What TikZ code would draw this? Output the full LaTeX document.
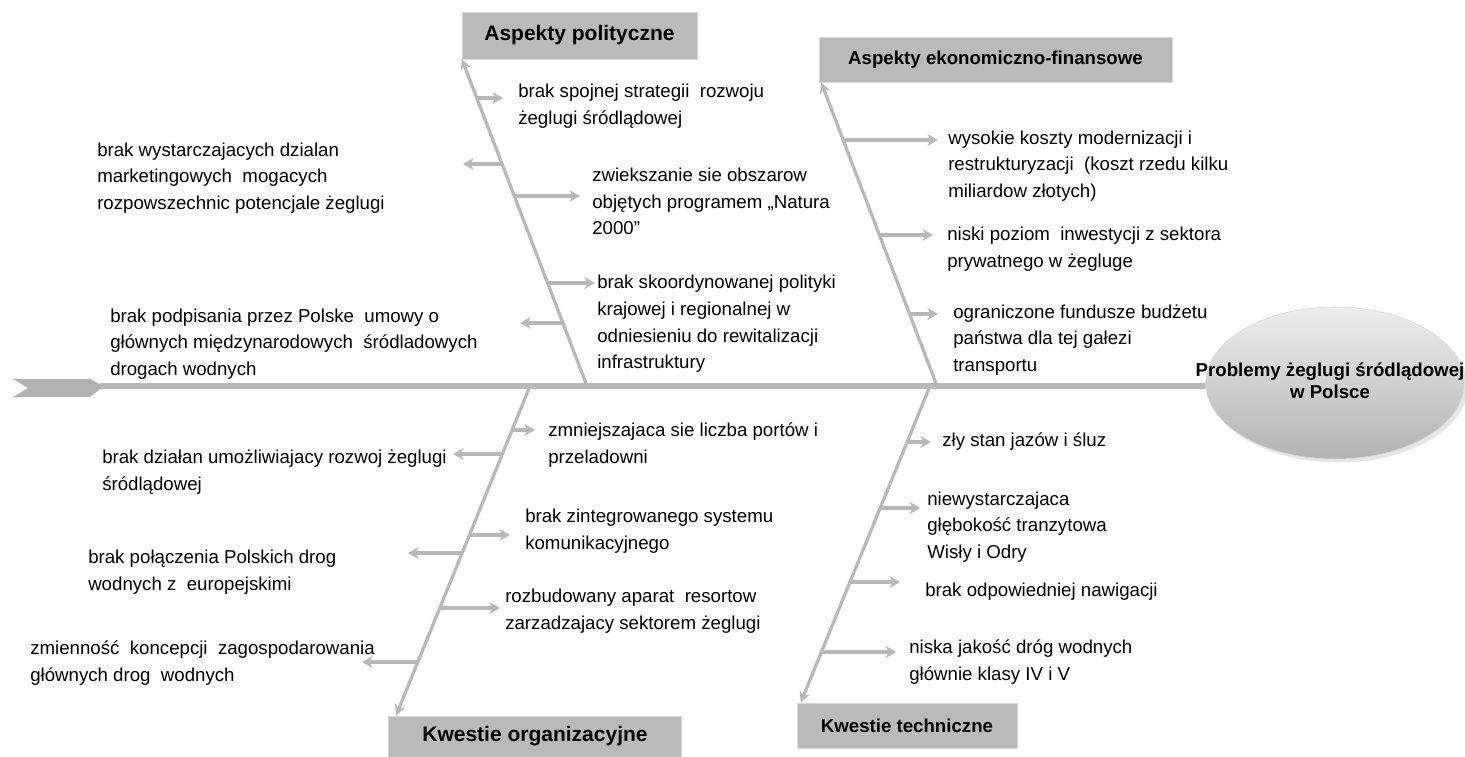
\documentclass[tikz,border=0pt]{standalone}
\usepackage{fontspec}
\setmainfont{Liberation Sans}
\usetikzlibrary{arrows.meta,shapes.geometric,shadows}

\begin{document}
\begin{tikzpicture}[x=0.75pt, y=-0.75pt,
    cause/.style={align=left, anchor=west, inner sep=0pt, font=\fontsize{14}{20}\selectfont},
    category/.style={fill=black!27, draw=black!15, inner sep=0pt, font=\bfseries\fontsize{15.75}{18}\selectfont},
    smallcat/.style={category, font=\bfseries\fontsize{14}{16}\selectfont},
    spine/.style={draw=black!28, line width=4.5pt},
    bone/.style={draw=black!28, line width=2.4pt, -{Stealth[length=8pt,width=8pt]}},
    branch/.style={draw=black!28, line width=2.6pt, -{Stealth[length=8pt,width=9pt]}}
]
  \useasboundingbox (0,0) rectangle (1465,757);
  \fill[black!30] (13,379) -- (90,379) -- (104,386) -- (90,397) -- (13,397) -- (28,388) -- cycle;
  \coordinate (tail)    at (100,386);
  \coordinate (head)    at (1215,386);
  \draw[spine] (tail) -- (head);
  \node[ellipse, minimum width=194pt, minimum height=114pt, inner sep=0pt,
        top color=black!7, bottom color=black!30, draw=black!15,
        drop shadow={opacity=0.2}] (prob) at (1335,383) {};
  \node[font=\bfseries\fontsize{14}{16.5}\selectfont, align=center, inner sep=0pt] (probtxt) at (1330,381)
       {Problemy żeglugi śródlądowej\\w Polsce};

  \node[category, minimum width=176pt, minimum height=35pt] (polbox)  at (579.5,35.5) {Aspekty polityczne};
  \node[smallcat, minimum width=265pt, minimum height=34pt] (ekobox)  at (995.5,59.5) {Aspekty ekonomiczno-finansowe};
  \node[category, minimum width=220pt, minimum height=31pt] (orgbox)  at (535,736.5)  {Kwestie organizacyjne};
  \node[smallcat, minimum width=165pt, minimum height=34pt] (techbox) at (907,725.5)  {Kwestie techniczne};

  \coordinate (polroot)  at (587,386);
  \coordinate (ekoroot)  at (937,386);
  \coordinate (orgroot)  at (530,386);
  \coordinate (techroot) at (930,386);
  \draw[bone] (polroot)  -- (polbox.south west);
  \draw[bone] (ekoroot)  -- ([xshift=2pt]ekobox.south west);
  \draw[bone] (orgroot)  -- ([xshift=6pt]orgbox.north west);
  \draw[bone] (techroot) -- ([xshift=3pt]techbox.north west);

  \node[cause] (pol1) at (518,106.5) {brak spojnej strategii\ \ rozwoju\\żeglugi śródlądowej};
  \node[cause] (pol2) at (97,178)    {brak wystarczajacych dzialan\\marketingowych\ \ mogacych\\rozpowszechnic potencjale żeglugi};
  \node[cause] (pol3) at (592,201.5) {zwiekszanie sie obszarow\\objętych programem „Natura\\2000”};
  \node[cause] (pol4) at (597,324)   {brak skoordynowanej polityki\\krajowej i regionalnej w\\odniesieniu do rewitalizacji\\infrastruktury};
  \node[cause] (pol5) at (110,344)   {brak podpisania przez Polske\ \ umowy o\\głównych międzynarodowych\ \ śródladowych\\drogach wodnych};

  \node[cause] (eko1) at (948,166)   {wysokie koszty modernizacji i\\restrukturyzacji\ \ (koszt rzedu kilku\\miliardow złotych)};
  \node[cause] (eko2) at (947,249)   {niski poziom\ \ inwestycji z sektora\\prywatnego w żegluge};
  \node[cause] (eko3) at (953,340)   {ograniczone fundusze budżetu\\państwa dla tej gałezi\\transportu};

  \node[cause] (org1) at (548,445)   {zmniejszajaca sie liczba portów i\\przeladowni};
  \node[cause] (org2) at (102,472)   {brak działan umożliwiajacy rozwoj żeglugi\\śródlądowej};
  \node[cause] (org3) at (525,531)   {brak zintegrowanego systemu\\komunikacyjnego};
  \node[cause] (org4) at (88,572)    {brak połączenia Polskich drog\\wodnych z\ \ europejskimi};
  \node[cause] (org5) at (505,611)   {rozbudowany aparat\ \ resortow\\zarzadzajacy sektorem żeglugi};
  \node[cause] (org6) at (30,663)    {zmienność\ \ koncepcji\ \ zagospodarowania\\głównych drog\ \ wodnych};

  \node[cause] (tech1) at (942,442)  {zły stan jazów i śluz};
  \node[cause] (tech2) at (927,527)  {niewystarczajaca\\głębokość tranzytowa\\Wisły i Odry};
  \node[cause] (tech3) at (925,592)  {brak odpowiedniej nawigacji};
  \node[cause] (tech4) at (909,662)  {niska jakość dróg wodnych\\głównie klasy IV i V};

  \coordinate (pa) at (477,98);   \coordinate (pa') at (503,98);
  \coordinate (pb) at (502,164);  \coordinate (pb') at (463,164);
  \coordinate (pc) at (515,196);  \coordinate (pc') at (580,196);
  \coordinate (pd) at (548,283);  \coordinate (pd') at (595,283);
  \coordinate (pe) at (563,323);  \coordinate (pe') at (520,323);
  \coordinate (ea) at (844,140);  \coordinate (ea') at (938,140);
  \coordinate (eb) at (880,235);  \coordinate (eb') at (933,235);
  \coordinate (ec) at (910,314);  \coordinate (ec') at (938,314);
  \coordinate (oa) at (512,430);  \coordinate (oa') at (535,430);
  \coordinate (ob) at (502,454);  \coordinate (ob') at (453,454);
  \coordinate (oc) at (469,535);  \coordinate (oc') at (510,535);
  \coordinate (od) at (462,553);  \coordinate (od') at (408,553);
  \coordinate (oe) at (440,608);  \coordinate (oe') at (500,608);
  \coordinate (of) at (418,662);  \coordinate (of') at (362,662);
  \coordinate (ta) at (907,442);  \coordinate (ta') at (931,442);
  \coordinate (tb) at (880,508);  \coordinate (tb') at (920,508);
  \coordinate (tc) at (850,582);  \coordinate (tc') at (900,582);
  \coordinate (td) at (821,652);  \coordinate (td') at (896,652);
  \draw[branch] (pa) -- (pa');
  \draw[branch] (pb) -- (pb');
  \draw[branch] (pc) -- (pc');
  \draw[branch] (pd) -- (pd');
  \draw[branch] (pe) -- (pe');
  \draw[branch] (ea) -- (ea');
  \draw[branch] (eb) -- (eb');
  \draw[branch] (ec) -- (ec');
  \draw[branch] (oa) -- (oa');
  \draw[branch] (ob) -- (ob');
  \draw[branch] (oc) -- (oc');
  \draw[branch] (od) -- (od');
  \draw[branch] (oe) -- (oe');
  \draw[branch] (of) -- (of');
  \draw[branch] (ta) -- (ta');
  \draw[branch] (tb) -- (tb');
  \draw[branch] (tc) -- (tc');
  \draw[branch] (td) -- (td');
\end{tikzpicture}
\end{document}
